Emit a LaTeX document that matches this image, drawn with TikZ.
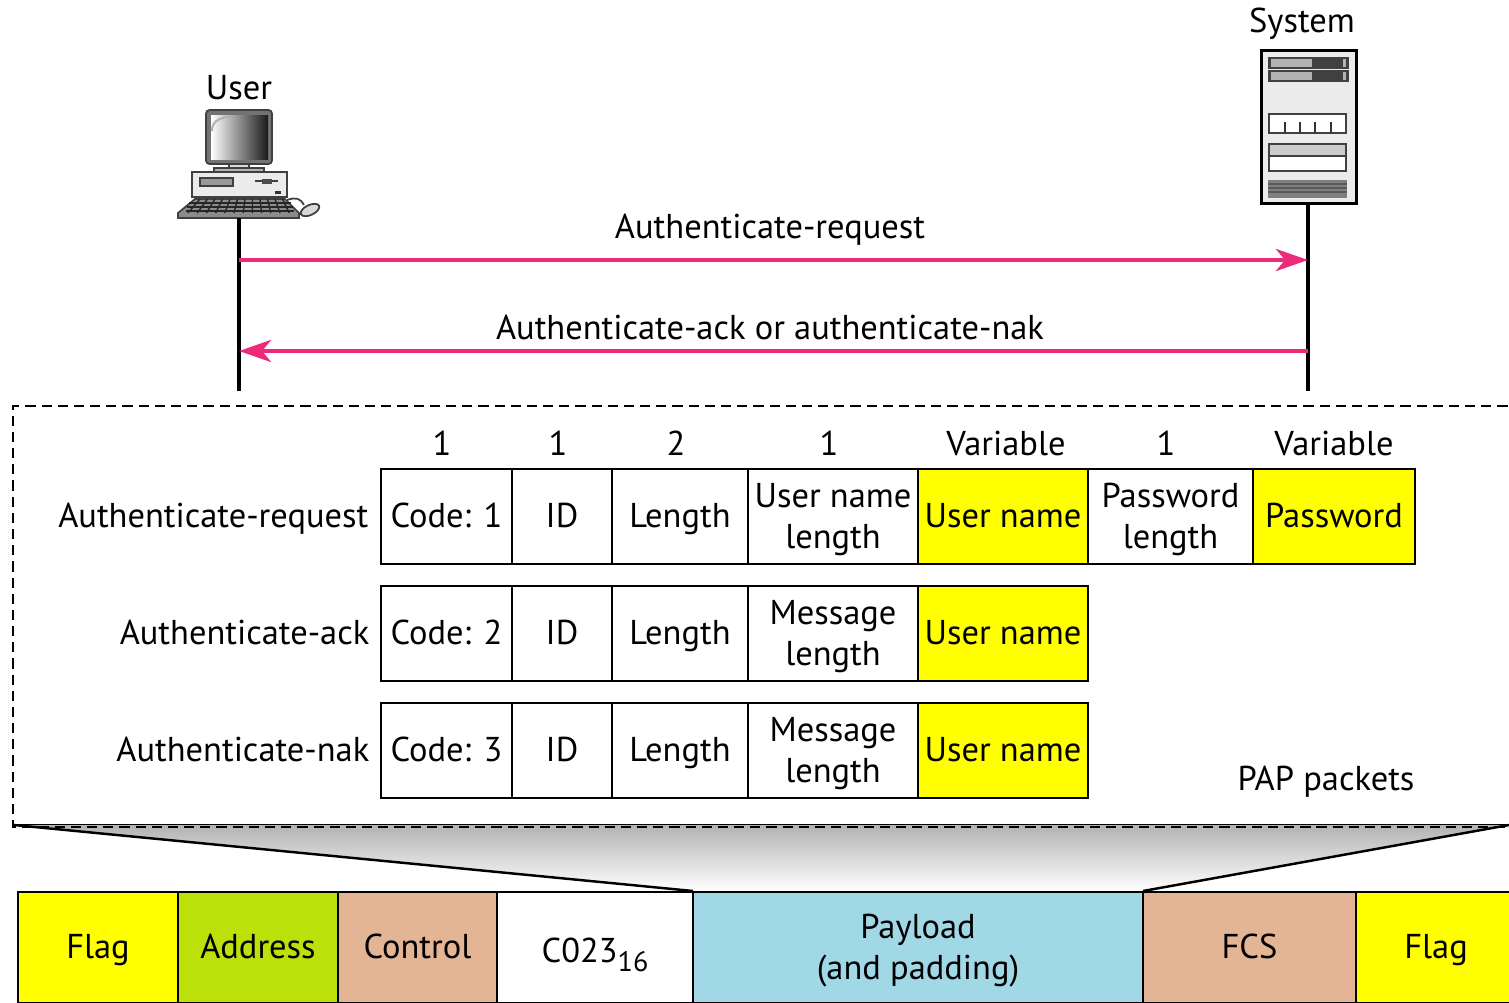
\documentclass[tikz,border=0pt]{standalone}
\usepackage{fontspec}
\setmainfont{PT Sans}
\usetikzlibrary{arrows.meta}
\definecolor{msgpink}{RGB}{238,42,123}
\definecolor{fldyellow}{RGB}{255,255,0}
\definecolor{fldgreen}{RGB}{188,224,10}
\definecolor{fldtan}{RGB}{227,181,148}
\definecolor{fldblue}{RGB}{160,216,230}
\newcommand{\lblstrut}{\rule[-2.63pt]{0pt}{11.6pt}}
\tikzset{
    lbl/.style={inner sep=0pt, font=\fontsize{9.8}{11.6}\selectfont, align=center,
        execute at begin node=\lblstrut, execute at end node=\lblstrut},
    lowtxt/.style={execute at begin node=\rule{0pt}{11.2pt}},
    twoline/.style={execute at begin node=\rule{0pt}{20.7pt}},
    pktcell/.style={lbl, draw=black, line width=0.7pt, minimum height=0.95cm},
    frmcell/.style={lbl, draw=black, line width=0.7pt, minimum height=1.11cm},
    lifeline/.style={black, line width=0.9pt},
    msg/.style={msgpink, line width=1.3pt, -{Stealth[length=3.2mm,width=2.2mm,inset=0.9mm]}},
    icon/.style={draw=black!75, line width=0.5pt}
}
\begin{document}
\begin{tikzpicture}[x=0.01cm, y=-0.01cm]
    \clip (0,0) rectangle (1509,1003);

    % user computer
    \node[lbl] (usr) at (239,88) {User};
    \draw[icon, fill=black!55, rounded corners=1pt] (206,110) rectangle (272,164);
    \shade[left color=white, middle color=black!12, right color=black!90] (211,115) rectangle (268,159);
    \draw[white!70!black, line width=0.6pt] (212,131) .. controls (212,122) and (218,118) .. (231,116);
    \draw[icon, fill=black!15] (229,164) rectangle (249,168);
    \draw[icon, fill=black!30] (214,168) rectangle (264,172);
    \draw[icon, fill=black!8] (192,172) rectangle (287,197);
    \draw[icon, fill=black!40] (200,178) rectangle (233,186);
    \draw[icon] (255,181) -- (278,181);
    \fill[black!70] (262,179) rectangle (272,184);
    \fill[black!80] (275,191) rectangle (281,194);
    \draw[icon, fill=black!45] (195,199) -- (285,199) -- (299,213) -- (299,218) -- (178,218) -- (178,213) -- cycle;
    \foreach \i in {0,...,11} {
        \draw[black!85, line width=0.4pt] (200+\i*7.5,199) -- (188+\i*9.2,213);
    }
    \foreach \j in {203,207,211} {
        \draw[black!85, line width=0.4pt] (190-\j*0.4+80,\j) -- (290+\j*0.4-80,\j);
    }
    \draw[icon] (287,200) .. controls (296,197) and (300,198) .. (304,205);
    \draw[icon, fill=black!15, rotate around={25:(310,210)}] (310,210) ellipse (10 and 5);
    \coordinate (usrtop) at (239,218);
    \coordinate (usrend) at (239,391);

    % system rack
    \node[lbl] (sys) at (1302,21) {System};
    \node[draw=black, line width=0.85pt, fill=black!8, minimum width=0.94cm, minimum height=1.52cm, inner sep=0pt] (rack) at (1309,127) {};
    \foreach \y in {58,71} {
        \draw[icon, fill=black!75] (1269,\y) rectangle (1348,\y+10);
        \fill[black!30] (1271,\y+1) rectangle (1312,\y+9);
        \fill[black!30] (1343,\y+1) rectangle (1346,\y+9);
    }
    \draw[icon, fill=white, line width=0.7pt] (1269,114) rectangle (1346,133);
    \foreach \x in {1285,1300,1315,1331} {
        \draw[black!80, line width=0.6pt] (\x,122) -- (\x,133);
    }
    \draw[icon, fill=white, line width=0.7pt] (1269,144) rectangle (1346,171);
    \draw[icon, fill=black!20, line width=0.7pt] (1269,144) rectangle (1346,156);
    \fill[black!50] (1268,180) rectangle (1347,198);
    \foreach \y in {184,188,192} {
        \draw[black!65, line width=0.3pt] (1268,\y) -- (1347,\y);
    }
    \coordinate (sysend) at (1308,391);

    % time lines and messages
    \draw[lifeline] (usrtop) -- (usrend);
    \draw[lifeline] (rack.south -| sysend) -- (sysend);
    \coordinate (reqa) at (239,260);
    \coordinate (reqb) at (1308,260);
    \coordinate (ansa) at (1308,351);
    \coordinate (ansb) at (239,351);
    \draw[msg] (reqa) -- (reqb);
    \draw[msg] (ansa) -- (ansb);
    \node[lbl] (reqtxt) at (770,227) {Authenticate-request};
    \node[lbl] (anstxt) at (770,328) {Authenticate-ack or authenticate-nak};

    % shaded link down to the frame
    \shade[top color=black!30, bottom color=white] (14,825) -- (1509,825) -- (1143,891) -- (693,891) -- cycle;
    \draw[black, line width=0.7pt] (14,825) -- (693,891);
    \draw[black, line width=0.7pt] (1143,891) -- (1509,825);
    \draw[black, line width=0.5pt] (14,824.5) -- (1530,824.5);

    % dashed box
    \draw[black, line width=0.7pt, dash pattern=on 2.9pt off 1.7pt] (1540,406) -- (13,406) -- (13,827) -- (1540,827);

    % sizes
    \node[lbl] (sza) at (442,444) {1};
    \node[lbl] (szb) at (558,444) {1};
    \node[lbl] (szc) at (676,444) {2};
    \node[lbl] (szd) at (829,444) {1};
    \node[lbl] (sze) at (1006,444) {Variable};
    \node[lbl] (szf) at (1166,444) {1};
    \node[lbl] (szg) at (1334,444) {Variable};

    % request packet
    \node[lbl, anchor=east] (reqlbl) at (369,516) {Authenticate-request};
    \node[pktcell, minimum width=1.31cm] (reqcode) at (446.5,516.5) {Code: 1};
    \node[pktcell, minimum width=1.00cm] (reqid) at (562,516.5) {ID};
    \node[pktcell, minimum width=1.36cm] (reqlen) at (680,516.5) {Length};
    \node[pktcell, twoline, minimum width=1.70cm] (requlen) at (833,516.5) {User name\\length};
    \node[pktcell, minimum width=1.70cm, fill=fldyellow] (requsr) at (1003,516.5) {User name};
    \node[pktcell, twoline, minimum width=1.65cm] (reqplen) at (1170.5,516.5) {Password\\length};
    \node[pktcell, minimum width=1.62cm, fill=fldyellow] (reqpwd) at (1334,516.5) {Password};

    % ack packet
    \node[lbl, anchor=east] (acklbl) at (370,633) {Authenticate-ack};
    \node[pktcell, minimum width=1.31cm] (ackcode) at (446.5,633.5) {Code: 2};
    \node[pktcell, minimum width=1.00cm] (ackid) at (562,633.5) {ID};
    \node[pktcell, minimum width=1.36cm] (acklen) at (680,633.5) {Length};
    \node[pktcell, twoline, minimum width=1.70cm] (ackmlen) at (833,633.5) {Message\\length};
    \node[pktcell, minimum width=1.70cm, fill=fldyellow] (ackusr) at (1003,633.5) {User name};

    % nak packet
    \node[lbl, anchor=east] (naklbl) at (370,750) {Authenticate-nak};
    \node[pktcell, minimum width=1.31cm] (nakcode) at (446.5,750.5) {Code: 3};
    \node[pktcell, minimum width=1.00cm] (nakid) at (562,750.5) {ID};
    \node[pktcell, minimum width=1.36cm] (naklen) at (680,750.5) {Length};
    \node[pktcell, twoline, minimum width=1.70cm] (nakmlen) at (833,750.5) {Message\\length};
    \node[pktcell, minimum width=1.70cm, fill=fldyellow] (nakusr) at (1003,750.5) {User name};

    \node[lbl] (paplbl) at (1326,779) {PAP packets};

    % ppp frame
    \node[frmcell, minimum width=1.60cm, fill=fldyellow] (flga) at (98,947.5) {Flag};
    \node[frmcell, minimum width=1.60cm, fill=fldgreen] (addr) at (258,947.5) {Address};
    \node[frmcell, minimum width=1.59cm, fill=fldtan] (ctrl) at (417.5,947.5) {Control};
    \node[frmcell, lowtxt, minimum width=1.96cm] (prot) at (595,947.5) {C023\raisebox{-2.6pt}{\fontsize{8}{9}\selectfont 16}};
    \node[frmcell, twoline, minimum width=4.50cm, fill=fldblue] (payl) at (918,947.5) {Payload\\(and padding)};
    \node[frmcell, minimum width=2.13cm, fill=fldtan] (fcs) at (1249.5,947.5) {FCS};
    \node[frmcell, minimum width=1.60cm, fill=fldyellow] (flgb) at (1436,947.5) {Flag};
\end{tikzpicture}
\end{document}
